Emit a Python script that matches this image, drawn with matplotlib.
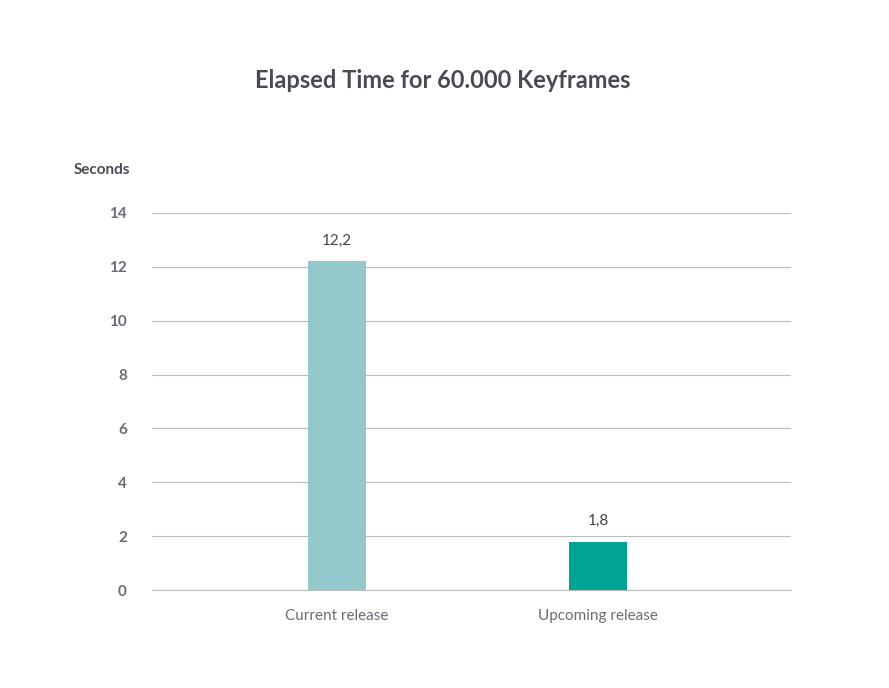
import matplotlib.pyplot as plt

# Data
categories = ["Current release", "Upcoming release"]
seconds = [12.2, 1.8]
value_labels = ["12,2", "1,8"]
bar_colors = ["#93c8cc", "#00a396"]
yticks = [0, 2, 4, 6, 8, 10, 12, 14]

plt.rcParams["font.family"] = "Lato"

fig = plt.figure(figsize=(8.89, 6.88), dpi=100)
ax = fig.add_axes([152 / 889, 1 - 590 / 688, (791 - 152) / 889, (590 - 213) / 688])

x = range(len(categories))
bars = ax.bar(x, seconds, width=0.222, color=bar_colors, zorder=3)
for b, lab in zip(bars, value_labels):
    ax.text(b.get_x() + b.get_width() / 2, b.get_height() + 0.5, lab,
            ha="center", va="bottom", fontsize=11, color="#444444")

ax.set_xlim(-0.709, 1.739)
ax.set_ylim(0, 14)
ax.set_yticks(yticks)
ax.set_xticks(list(x))
ax.set_xticklabels(categories, fontsize=11, color="#6b6b75")
ax.tick_params(axis="y", length=0, pad=18, labelsize=11, labelcolor="#6b6b75")
ax.tick_params(axis="x", length=0, pad=14)
for lab in ax.get_yticklabels():
    lab.set_fontweight("bold")
ax.grid(axis="y", color="#bbbbbb", linewidth=0.8, zorder=0)
for s in ["top", "right", "left"]:
    ax.spines[s].set_visible(False)
ax.spines["bottom"].set_color("#bbbbbb")

fig.text(102 / 889, 1 - 170 / 688, "Seconds", ha="center", va="center",
         fontsize=11, fontweight="bold", color="#4a4a55")
fig.text(443 / 889, 1 - 80 / 688, "Elapsed Time for 60.000 Keyframes",
         ha="center", va="center", fontsize=17, fontweight="bold", color="#4a4a55")

fig.savefig("out.png", dpi=100, facecolor="white")
